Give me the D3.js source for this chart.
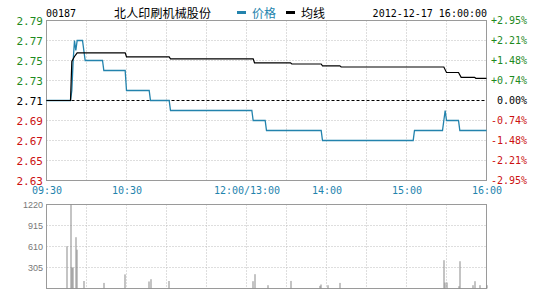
<!DOCTYPE html>
<html>
<head>
<meta charset="utf-8">
<script src="https://cdn.jsdelivr.net/npm/d3@7"></script>
<style>
  body { margin: 0; background: #fff; }
  svg { display: block; }
  .cjk { font-family: 'Noto Sans CJK SC', sans-serif; }
</style>
</head>
<body>
<svg id="chart" width="533" height="293"></svg>
<script>
// trading minutes since 09:30 (lunch break removed, 13:00 = 150)
const timeTicks = [0, 60, 150, 210, 270, 330]
const timeLabels = ['09:30', '10:30', '12:00/13:00', '14:00', '15:00', '16:00']
const gridMinutes = [0, 30, 60, 90, 120, 150, 180, 210, 240, 270, 300, 330]

const priceTicks = [2.79, 2.77, 2.75, 2.73, 2.71, 2.69, 2.67, 2.65, 2.63]
const pctLabels = ['+2.95%', '+2.21%', '+1.48%', '+0.74%', '0.00%', '-0.74%', '-1.48%', '-2.21%', '-2.95%']
const prevClose = 2.71

const priceTimes = [0, 18, 19, 20, 21, 22, 23, 27, 29, 42, 43, 59, 60, 77, 78, 92, 93, 154, 155, 164, 165, 206, 207, 275, 276, 297, 298, 299, 300, 309, 310, 330]
const priceValues = [2.71, 2.71, 2.72, 2.75, 2.77, 2.76, 2.77, 2.77, 2.75, 2.75, 2.74, 2.74, 2.72, 2.72, 2.71, 2.71, 2.70, 2.70, 2.69, 2.69, 2.68, 2.68, 2.67, 2.67, 2.68, 2.68, 2.69, 2.70, 2.69, 2.69, 2.68, 2.68]

const avgTimes = [0, 18, 19, 21, 23, 59, 60, 92, 93, 155, 156, 183, 184, 206, 207, 220, 221, 298, 300, 309, 311, 321, 322, 330]
const avgValues = [2.71, 2.71, 2.749, 2.754, 2.7577, 2.7577, 2.7537, 2.7537, 2.7517, 2.7517, 2.7477, 2.7477, 2.7465, 2.7465, 2.7447, 2.7447, 2.7435, 2.7435, 2.738, 2.738, 2.7332, 2.7332, 2.7322, 2.7322]

const volTicks = [1220, 915, 610, 305]
const volTimes = [15, 18, 19, 20, 22, 23, 28, 43, 59, 77, 78, 92, 155, 156, 166, 183, 205, 206, 211, 220, 298, 299, 300, 309, 310, 320, 321, 325, 330]
const volValues = [614, 1220, 305, 305, 745, 564, 109, 81, 205, 102, 135, 109, 106, 208, 48, 110, 38, 58, 48, 81, 411, 87, 87, 33, 396, 48, 106, 48, 48]

const svg = d3.select('#chart')

const x = d3.scaleLinear().domain([0, 330]).range([46.5, 486.5])
const y = d3.scaleLinear().domain([2.63, 2.79]).range([180.5, 20.5])
const yVol = d3.scaleLinear().domain([0, 1220]).range([288.5, 204.5])

const green = '#1e8a1e'
const red = '#cc1111'
const blue = '#2383ad'
const gridColor = '#bcbcbc'
const frameColor = '#9a9a9a'
const monoFont = 'DejaVu Sans Mono, monospace'

function labelColor (v) {
  if (Math.abs(v - prevClose) < 1e-6) return '#000'
  return v > prevClose ? green : red
}

// dotted grid + frame for a panel
function drawGrid (yScale, yValues, top, bottom) {
  const g = svg.append('g')
  g.selectAll('line.v')
    .data(gridMinutes.slice(1, -1))
    .join('line')
    .attr('x1', d => x(d)).attr('x2', d => x(d))
    .attr('y1', top).attr('y2', bottom)
    .attr('stroke', gridColor)
    .attr('stroke-dasharray', '1,2')
  g.selectAll('line.h')
    .data(yValues)
    .join('line')
    .attr('x1', x(0)).attr('x2', x(330))
    .attr('y1', d => yScale(d)).attr('y2', d => yScale(d))
    .attr('stroke', gridColor)
    .attr('stroke-dasharray', '1,2')
  svg.append('rect')
    .attr('x', x(0)).attr('y', top)
    .attr('width', x(330) - x(0)).attr('height', bottom - top)
    .attr('fill', 'none')
    .attr('stroke', frameColor)
}

// quiet axis that only places labels
function labelAxis (axis, transform, size, family, color) {
  const g = svg.append('g')
    .attr('transform', transform)
    .call(axis.tickSize(0).tickPadding(0))
  g.select('.domain').remove()
  g.selectAll('text')
    .attr('font-size', size)
    .attr('font-family', family)
    .attr('fill', color)
  return g
}

// price panel
drawGrid(y, priceTicks.filter(d => d !== prevClose && d !== 2.79 && d !== 2.63), 20.5, 180.5)

svg.append('line')
  .attr('x1', x(0)).attr('x2', x(330))
  .attr('y1', y(prevClose)).attr('y2', y(prevClose))
  .attr('stroke', '#000')
  .attr('stroke-dasharray', '3,2')

const priceLine = d3.line().x((d, i) => x(priceTimes[i])).y(d => y(d))
svg.append('path')
  .attr('d', priceLine(priceValues))
  .attr('fill', 'none')
  .attr('stroke', blue)
  .attr('stroke-width', 1.3)

const avgLine = d3.line().x((d, i) => x(avgTimes[i])).y(d => y(d))
svg.append('path')
  .attr('d', avgLine(avgValues))
  .attr('fill', 'none')
  .attr('stroke', '#000')
  .attr('stroke-width', 1.2)

labelAxis(d3.axisLeft(y).tickValues(priceTicks).tickFormat(d3.format('.2f')),
  'translate(43,0)', 11, monoFont, d => labelColor(d))

labelAxis(d3.axisLeft(y).tickValues(priceTicks).tickFormat((d, i) => pctLabels[i]),
  'translate(527,0)', 10, monoFont, d => labelColor(d))

labelAxis(d3.axisBottom(x).tickValues(timeTicks).tickFormat((d, i) => timeLabels[i]),
  'translate(0,187)', 10, monoFont, blue)

// volume panel
drawGrid(yVol, volTicks.slice(1), 204.5, 288.5)

svg.append('g')
  .selectAll('rect')
  .data(volValues)
  .join('rect')
  .attr('x', (d, i) => Math.round(x(volTimes[i])) - 0.5)
  .attr('y', d => yVol(d))
  .attr('width', 1)
  .attr('height', d => yVol(0) - yVol(d))
  .attr('fill', '#8a8a8a')

labelAxis(d3.axisLeft(yVol).tickValues(volTicks).tickFormat(d3.format('d')),
  'translate(43,0)', 9, 'Liberation Sans, Arial, sans-serif', '#777')

// header
svg.append('text')
  .attr('x', 46).attr('y', 17)
  .attr('font-size', 10)
  .attr('font-family', monoFont)
  .text('00187')

svg.append('text')
  .attr('class', 'cjk')
  .attr('x', 114).attr('y', 18)
  .attr('font-size', 12)
  .attr('textLength', 97)
  .text('北人印刷机械股份')

const legend = [
  { name: '价格', color: blue, x: 237 },
  { name: '均线', color: '#000', x: 286 }
]
legend.forEach(item => {
  svg.append('rect')
    .attr('x', item.x).attr('y', 11)
    .attr('width', 9).attr('height', 3)
    .attr('fill', item.color)
  svg.append('text')
    .attr('class', 'cjk')
    .attr('x', item.x + 15).attr('y', 18)
    .attr('font-size', 12)
    .attr('fill', item.color)
    .text(item.name)
})

svg.append('text')
  .attr('x', 487).attr('y', 17)
  .attr('text-anchor', 'end')
  .attr('font-size', 10)
  .attr('font-family', monoFont)
  .text('2012-12-17 16:00:00')
</script>
</body>
</html>
